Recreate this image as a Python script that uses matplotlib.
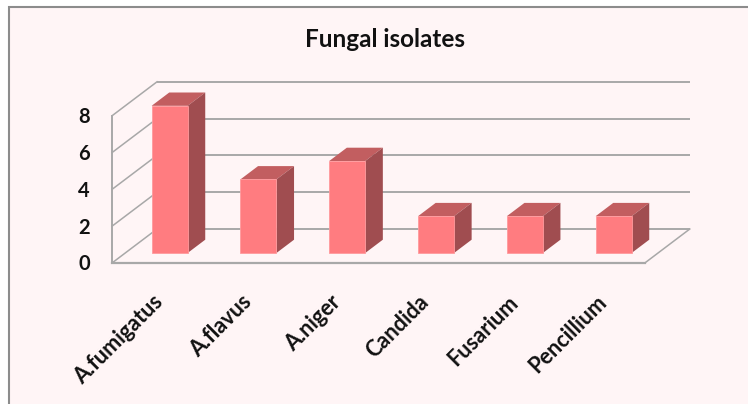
import matplotlib.pyplot as plt
from matplotlib.patches import Polygon, Rectangle

categories = ['A.fumigatus', 'A.flavus', 'A.niger', 'Candida', 'Fusarium', 'Pencillium']
isolates = [8, 4, 5, 2, 2, 2]
y_ticks = [0, 2, 4, 6, 8]
title = 'Fungal isolates'

BG = '#FFF5F6'
GRID = '#A8A8A8'
FRONT = '#FF7C80'
TOP = '#C25E60'
SIDE = '#A04D50'

W, H = 748, 404
plt.rcParams['font.family'] = ['Lato', 'DejaVu Sans']

fig = plt.figure(figsize=(W / 100, H / 100), dpi=100, facecolor='white')
ax = fig.add_axes([0, 0, 1, 1])

# one category slot = 88.8 px, one value unit = 18.4 px, y=0 on the front edge at py 263
sx, sy = 88.8, 18.4
ax.set_xlim(-0.5 - 112 / sx, -0.5 + (W - 112) / sx)
ax.set_ylim(-(H - 263) / sy, 263 / sy)
ax.axis('off')

# oblique depth offset of the back wall, in data units
dx, dy = 45 / sx, 34 / sy
n = len(categories)
left, right = -0.5, n - 0.5
ymax = max(y_ticks)


def depth(x, y, d):
    return x + d * dx, y + d * dy


# chart area frame
ax.add_patch(Rectangle((-0.5 - 103 / sx, -(H - 263) / sy - 1), 10, (263 - 7) / sy + (H - 263) / sy + 1,
                       fc=BG, ec='#8C8C8C', lw=1.5, zorder=0))

# back wall gridlines and side wall lines
for t in y_ticks:
    x0, y0 = depth(left, t, 1)
    ax.plot([x0, x0 + n], [y0, y0], color=GRID, lw=1.4, zorder=1, solid_capstyle='butt')
    ax.plot([left, x0], [t, y0], color=GRID, lw=1.1, zorder=1)
    ax.text(left - 28 / sx, t - 1.5 / sy, str(t), ha='center', va='center', fontsize=14.5, fontweight='bold', color='#111111')
ax.plot([left, left], [0, ymax], color=GRID, lw=1.4, zorder=1)
ax.plot([left, right], [0, 0], color=GRID, lw=1.6, zorder=1)
ax.plot([right, right + dx], [0, dy], color=GRID, lw=1.1, zorder=1)

# bars
bar_w = 36 / sx
d0, d1 = 10 / 34, 23.3 / 34
for i, v in enumerate(isolates):
    a, b = i - bar_w / 2, i + bar_w / 2
    fl = depth(a, 0, d0)
    fr = depth(b, 0, d0)
    tl = depth(a, v, d0)
    tr = depth(b, v, d0)
    bl = depth(a, v, d1)
    br = depth(b, v, d1)
    brb = depth(b, 0, d1)
    ax.add_patch(Polygon([tl, tr, br, bl], fc=TOP, ec='none', zorder=3))
    ax.add_patch(Polygon([fr, brb, br, tr], fc=SIDE, ec='none', zorder=3))
    ax.add_patch(Polygon([fl, fr, tr, tl], fc=FRONT, ec='#FF9A9D', lw=0.6, zorder=4))
    ax.text(i + 3 / sx, -36 / sy, categories[i], rotation=45, rotation_mode='anchor',
            ha='right', va='center', fontsize=15.6, fontweight='bold', color='#111111')

ax.text(left + 273 / sx, (263 - 39) / sy, title, ha='center', va='center', fontsize=17.5,
        fontweight='bold', color='#111111')

fig.savefig('out.png', dpi=100, facecolor='white')
